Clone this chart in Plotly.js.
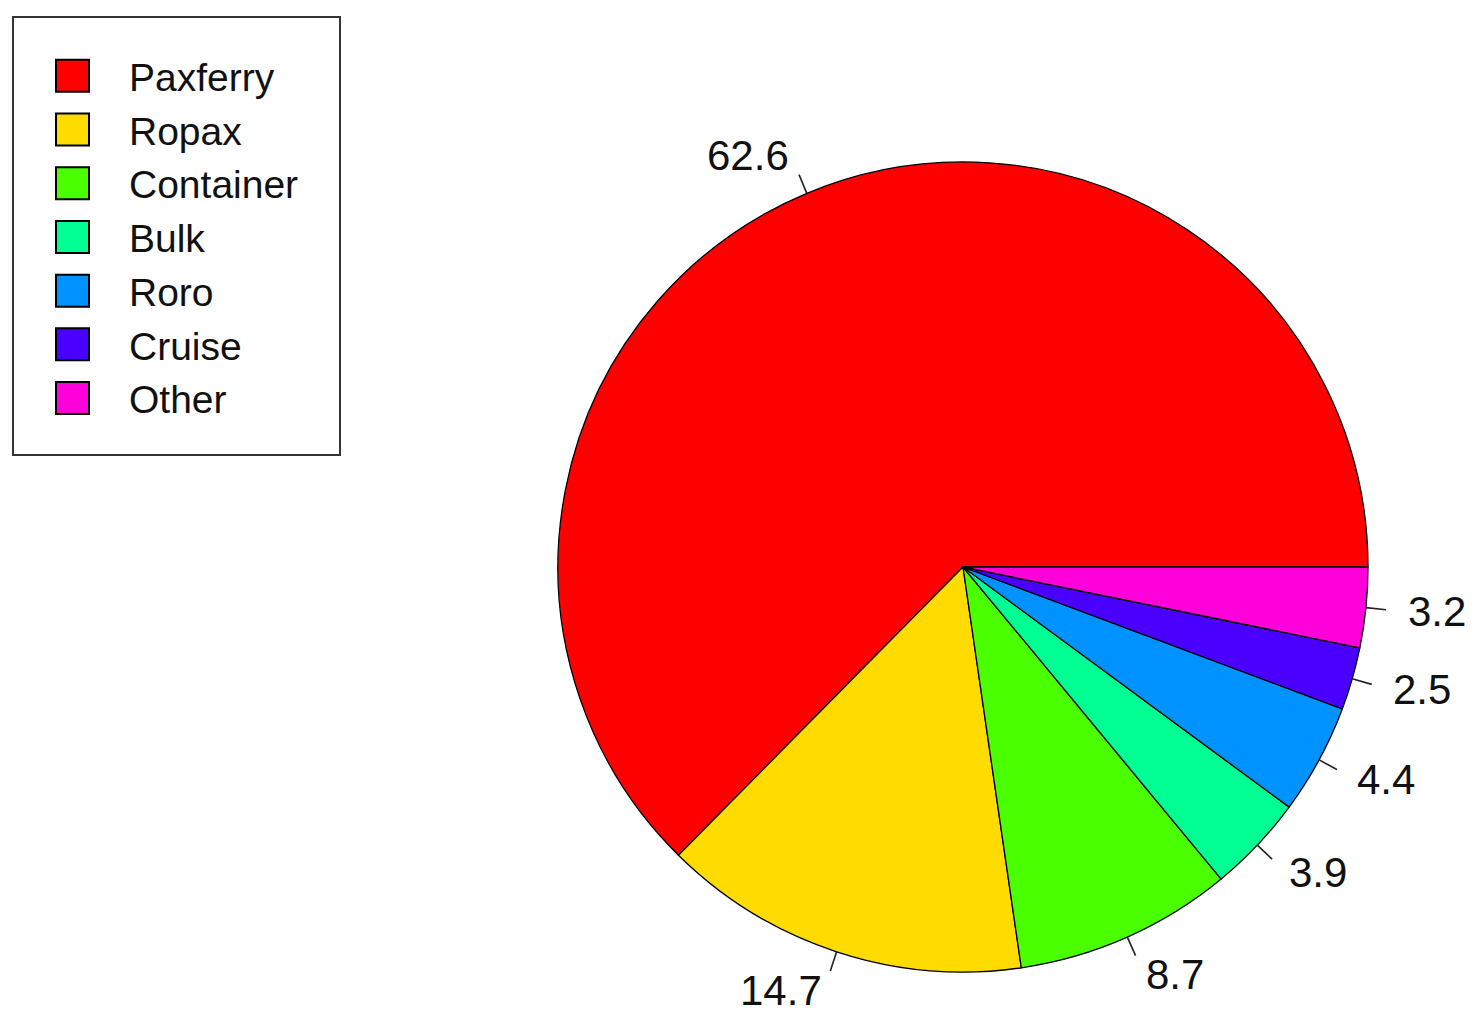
<!DOCTYPE html>
<html>
<head>
<meta charset="utf-8">
<script src="https://cdn.plot.ly/plotly-3.0.1.min.js"></script>
<style>
  html, body { margin: 0; padding: 0; background: #fff; }
  #chart { width: 1480px; height: 1030px; }
</style>
</head>
<body>
<div id="chart"></div>
<script>
// data
var categories = ['Paxferry', 'Ropax', 'Container', 'Bulk', 'Roro', 'Cruise', 'Other'];
var shares = [62.6, 14.7, 8.7, 3.9, 4.4, 2.5, 3.2];
var sliceColors = ['#FF0000', '#FFDB00', '#49FF00', '#00FF92', '#0092FF', '#4900FF', '#FF00DB'];

var W = 1480, H = 1030;
var cx = 963, cy = 567, r = 405;   // pie centre / radius in px
var font = 'Liberation Sans, Arial, sans-serif';

function px(x) { return x / W; }
function py(y) { return 1 - y / H; }

var total = shares.reduce(function (a, b) { return a + b; }, 0);

// plotly ccw pies end the first slice at `rotation`, so start it at 3 o'clock like R
var trace = {
  type: 'pie',
  labels: categories,
  values: shares,
  sort: false,
  direction: 'counterclockwise',
  rotation: 90 - 360 * shares[0] / total,
  textinfo: 'none',
  hoverinfo: 'none',
  marker: { colors: sliceColors, line: { color: '#000', width: 1.3 } },
  domain: { x: [px(cx - r), px(cx + r)], y: [py(cy + r), py(cy - r)] }
};

// R style labels: text at 1.1 r, small tick from r to 1.05 r
var annotations = [], shapes = [];
var cum = 0;
shares.forEach(function (v) {
  var a = 2 * Math.PI * (cum + v / 2) / total;
  cum += v;
  var c = Math.cos(a), s = Math.sin(a);
  shapes.push({
    type: 'line', xref: 'paper', yref: 'paper',
    x0: px(cx + r * c), y0: py(cy - r * s),
    x1: px(cx + 1.05 * r * c), y1: py(cy - 1.05 * r * s),
    line: { color: '#222', width: 1.6 }
  });
  annotations.push({
    xref: 'paper', yref: 'paper',
    x: px(cx + 1.1 * r * c), y: py(cy - 1.1 * r * s),
    xanchor: c < 0 ? 'right' : 'left', yanchor: 'middle',
    text: v.toFixed(1), showarrow: false,
    font: { family: font, size: 42, color: '#111' }
  });
});

// legend box
shapes.push({
  type: 'rect', xref: 'paper', yref: 'paper',
  x0: px(13), x1: px(340), y0: py(455), y1: py(17),
  line: { color: '#333', width: 2 }
});

var layout = {
  width: W, height: H,
  margin: { l: 0, r: 0, t: 0, b: 0 },
  paper_bgcolor: '#fff',
  showlegend: true,
  legend: {
    x: px(39), y: py(44), xanchor: 'left', yanchor: 'top',
    font: { family: font, size: 39, color: '#111' },
    itemwidth: 80,
    bgcolor: 'rgba(0,0,0,0)', borderwidth: 0
  },
  annotations: annotations,
  shapes: shapes
};

Plotly.newPlot('chart', [trace], layout, { staticPlot: true }).then(function (gd) {
  // bigger legend keys, like the R ones
  gd.querySelectorAll('.legendpoints path').forEach(function (p) {
    p.setAttribute('d', 'M5,16H-28V-16H5Z');
    p.style.strokeWidth = '2px';
  });
});
</script>
</body>
</html>
